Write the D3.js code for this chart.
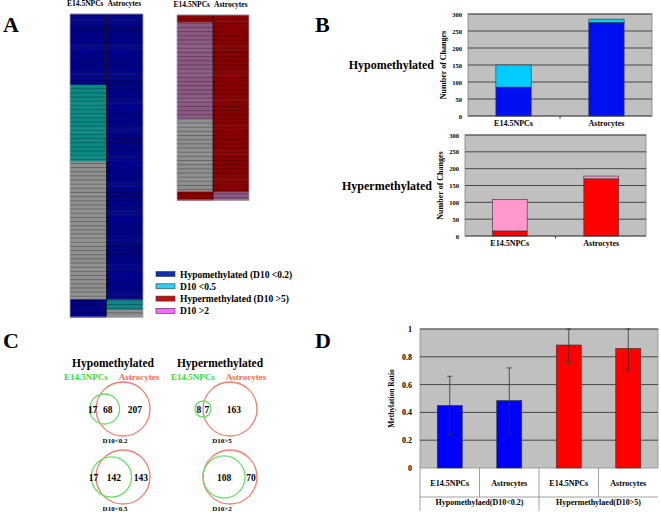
<!DOCTYPE html>
<html>
<head>
<meta charset="utf-8">
<script src="https://cdn.jsdelivr.net/npm/d3@7"></script>
<style>
body { margin: 0; background: #fff; }
text { font-family: "Liberation Serif", "Times New Roman", serif; font-weight: bold; }
</style>
</head>
<body>
<div id="fig"></div>
<script>
// ---- data ----
// panel A: blocks of genes, state in E14.5NPCs / Astrocytes, number of genes
const hypoBlocks = [
  { npc: 'lt02', astro: 'lt02', n: 68 },
  { npc: 'lt05', astro: 'lt02', n: 74 },
  { npc: 'none', astro: 'lt02', n: 133 },
  { npc: 'lt02', astro: 'lt05', n: 10 },
  { npc: 'lt02', astro: 'none', n: 7 }
]
const hyperBlocks = [
  { npc: 'gt5', astro: 'gt5', n: 7 },
  { npc: 'gt2', astro: 'gt5', n: 93 },
  { npc: 'none', astro: 'gt5', n: 70 },
  { npc: 'gt5', astro: 'gt2', n: 8 }
]
const heatColors = { lt02: '#00008a', lt05: '#0b8a84', none: '#8f8f8f', gt5: '#880000', gt2: '#8c5a82' }
const legendLabels = ['Hypomethylated (D10 <0.2)', 'D10 <0.5', 'Hypermethylated (D10 >5)', 'D10 >2']
const legendColors = ['#1030b0', '#33ccff', '#cc1010', '#ff66ff']

// panel B: stacked counts
const cellTypes = ['E14.5NPCs', 'Astrocytes']
const hypoStrict = [85, 275]   // D10 < 0.2
const hypoLoose = [150, 285]   // D10 < 0.5
const hyperStrict = [15, 170]  // D10 > 5
const hyperLoose = [108, 178]  // D10 > 2
const countTicks = [0, 50, 100, 150, 200, 250, 300]

// panel C: venn counts
const vennNames = ['D10<0.2', 'D10<0.5', 'D10>5', 'D10>2']
const vennNpcOnly = [17, 17, 8, 0]
const vennShared = [68, 142, 7, 108]
const vennAstroOnly = [207, 143, 163, 70]

// panel D: methylation ratio
const dCells = ['E14.5NPCs', 'Astrocytes', 'E14.5NPCs', 'Astrocytes']
const dGroups = ['Hypomethylaed(D10<0.2)', 'Hypermethylaed(D10>5)']
const dMeans = [0.45, 0.485, 0.885, 0.86]
const dSd = [0.21, 0.235, 0.125, 0.155]
const dColors = ['#0000ff', '#0000ff', '#ff0000', '#ff0000']
const ratioTicks = [0, 0.2, 0.4, 0.6, 0.8, 1]

const svg = d3.select('#fig').append('svg')
  .attr('width', 661)
  .attr('height', 512)

// panel letters
const letters = [['A', 3, 32], ['B', 315, 32], ['C', 3, 348], ['D', 315, 348]]
svg.selectAll('.letter').data(letters).join('text')
  .attr('class', 'letter')
  .attr('x', d => d[1]).attr('y', d => d[2])
  .style('font-size', '22px')
  .text(d => d[0])

// ---- panel A ----
function heatmap(blocks, x0, x1, y0, y1) {
  const rows = []
  blocks.forEach(b => { for (let i = 0; i < b.n; i++) rows.push(b) })
  const x = d3.scaleBand().domain(cellTypes).range([x0, x1])
  const y = d3.scaleBand().domain(d3.range(rows.length)).range([y0, y1])
  const g = svg.append('g')

  cellTypes.forEach((c, ci) => {
    const key = ci === 0 ? 'npc' : 'astro'
    g.selectAll('.cell' + ci).data(rows).join('rect')
      .attr('x', x(c))
      .attr('y', (d, i) => y(i))
      .attr('width', x.bandwidth())
      .attr('height', y.bandwidth() + 0.6)
      .attr('fill', d => heatColors[d[key]])
  })
  // row separator lines
  g.selectAll('.sep').data(d3.range(0, rows.length, 4)).join('line')
    .attr('x1', x0).attr('x2', x1)
    .attr('y1', d => y(d)).attr('y2', d => y(d))
    .attr('stroke', '#000').attr('stroke-opacity', 0.35).attr('stroke-width', 0.8)
  g.append('line')
    .attr('x1', x(cellTypes[1])).attr('x2', x(cellTypes[1]))
    .attr('y1', y0).attr('y2', y1)
    .attr('stroke', '#111').attr('stroke-width', 0.8)
  g.append('rect')
    .attr('x', x0).attr('y', y0).attr('width', x1 - x0).attr('height', y1 - y0)
    .attr('fill', 'none').attr('stroke', '#a8a0b8').attr('stroke-width', 0.8)
  g.append('text')
    .attr('x', x(cellTypes[1]) - 3).attr('y', y0 - 8)
    .attr('text-anchor', 'end').style('font-size', '7.5px')
    .text(cellTypes[0])
  g.append('text')
    .attr('x', x(cellTypes[1]) + 1).attr('y', y0 - 8)
    .style('font-size', '7.5px')
    .text(cellTypes[1])
}
heatmap(hypoBlocks, 70, 143, 14, 317)
heatmap(hyperBlocks, 177, 249, 15, 200)

const leg = svg.append('g')
leg.selectAll('rect').data(legendLabels).join('rect')
  .attr('x', 156).attr('y', (d, i) => 271.5 + i * 12.3)
  .attr('width', 19).attr('height', 5)
  .attr('fill', (d, i) => legendColors[i])
  .attr('stroke', '#333').attr('stroke-width', 0.6)
leg.selectAll('text').data(legendLabels).join('text')
  .attr('x', 180).attr('y', (d, i) => 277.5 + i * 12.3)
  .style('font-size', '9.5px')
  .text(d => d)

// ---- panel B ----
function stackChart(strict, loose, colA, colB, xr, yr, title, titleX) {
  const x = d3.scaleBand().domain(cellTypes).range(xr).paddingInner(0.62).paddingOuter(0.3)
  const y = d3.scaleLinear().domain([0, 300]).range(yr)
  const g = svg.append('g')

  g.append('rect')
    .attr('x', xr[0]).attr('y', yr[1]).attr('width', xr[1] - xr[0]).attr('height', yr[0] - yr[1])
    .attr('fill', '#c0c0c0').attr('stroke', '#808080').attr('stroke-width', 0.8)
  g.selectAll('.grid').data(countTicks.slice(1)).join('line')
    .attr('x1', xr[0]).attr('x2', xr[1])
    .attr('y1', d => y(d)).attr('y2', d => y(d))
    .attr('stroke', '#3a3a3a').attr('stroke-width', 0.9)

  const yAxis = g.append('g')
    .attr('transform', `translate(${xr[0]},0)`)
    .call(d3.axisLeft(y).tickValues(countTicks).tickSize(0).tickPadding(6))
  yAxis.select('.domain').remove()
  yAxis.selectAll('text').style('font-size', '6.5px')

  g.selectAll('.lo').data(cellTypes).join('rect')
    .attr('x', d => x(d)).attr('width', x.bandwidth())
    .attr('y', (d, i) => y(strict[i])).attr('height', (d, i) => y(0) - y(strict[i]))
    .attr('fill', colA).attr('stroke', '#333').attr('stroke-width', 0.6)
  g.selectAll('.hi').data(cellTypes).join('rect')
    .attr('x', d => x(d)).attr('width', x.bandwidth())
    .attr('y', (d, i) => y(loose[i])).attr('height', (d, i) => y(strict[i]) - y(loose[i]))
    .attr('fill', colB).attr('stroke', '#333').attr('stroke-width', 0.6)

  // x axis line with category ticks
  g.append('line')
    .attr('x1', xr[0]).attr('x2', xr[1]).attr('y1', y(0)).attr('y2', y(0))
    .attr('stroke', '#333').attr('stroke-width', 0.9)
  const mid = (x(cellTypes[0]) + x(cellTypes[1]) + x.bandwidth()) / 2
  g.append('line')
    .attr('x1', mid).attr('x2', mid).attr('y1', y(0)).attr('y2', y(0) + 2.5)
    .attr('stroke', '#333')
  g.selectAll('.xl').data(cellTypes).join('text')
    .attr('x', d => x(d) + x.bandwidth() / 2).attr('y', y(0) + 10)
    .attr('text-anchor', 'middle').style('font-size', '8px')
    .text(d => d)

  g.append('text')
    .attr('transform', `translate(${xr[0] - 22},${(yr[0] + yr[1]) / 2}) rotate(-90)`)
    .attr('text-anchor', 'middle').style('font-size', '8px')
    .text('Number of Changes')
  g.append('text')
    .attr('x', titleX).attr('y', (yr[0] + yr[1]) / 2 + 4)
    .attr('text-anchor', 'end').style('font-size', '12px')
    .text(title)
}
stackChart(hypoStrict, hypoLoose, '#0010f0', '#00ccff', [468, 652], [116, 14], 'Hypomethylated', 434)
stackChart(hyperStrict, hyperLoose, '#ff0000', '#ff99cc', [465, 646], [236, 135], 'Hypermethylated', 432)

// ---- panel C ----
function lensArea(r1, r2, d) {
  if (d >= r1 + r2) return 0
  if (d <= Math.abs(r1 - r2)) return Math.PI * Math.min(r1, r2) ** 2
  const a = r1 * r1 * Math.acos((d * d + r1 * r1 - r2 * r2) / (2 * d * r1))
  const b = r2 * r2 * Math.acos((d * d + r2 * r2 - r1 * r1) / (2 * d * r2))
  const c = 0.5 * Math.sqrt((-d + r1 + r2) * (d + r1 - r2) * (d - r1 + r2) * (d + r1 + r2))
  return a + b - c
}
function solveDist(r1, r2, target) {
  let lo = Math.abs(r1 - r2), hi = r1 + r2
  for (let i = 0; i < 50; i++) {
    const m = (lo + hi) / 2
    if (lensArea(r1, r2, m) > target) lo = m; else hi = m
  }
  return (lo + hi) / 2
}

const vennCols = [113, 220]
const vennRows = [409, 477]
const bigR = 27
const cg = svg.append('g')
cg.selectAll('.vt').data(['Hypomethylated', 'Hypermethylated']).join('text')
  .attr('x', (d, i) => vennCols[i]).attr('y', 367)
  .attr('text-anchor', 'middle').style('font-size', '11.5px')
  .text(d => d)
vennCols.forEach(cx => {
  cg.append('text').attr('x', cx - 27).attr('y', 380).attr('text-anchor', 'middle')
    .attr('fill', '#33dd33').style('font-size', '9px').text(cellTypes[0])
  cg.append('text').attr('x', cx + 26).attr('y', 380).attr('text-anchor', 'middle')
    .attr('fill', '#ff6650').style('font-size', '9px').text(cellTypes[1])
})

vennNames.forEach((name, i) => {
  const npcTotal = vennNpcOnly[i] + vennShared[i]
  const astroTotal = vennShared[i] + vennAstroOnly[i]
  const r = bigR * Math.sqrt(npcTotal / astroTotal)
  const target = vennShared[i] / astroTotal * Math.PI * bigR * bigR
  const d = solveDist(r, bigR, target)
  const rx = vennCols[Math.floor(i / 2)] + 10
  const cy = vennRows[i % 2]
  const gx = rx - d
  cg.append('circle').attr('cx', rx).attr('cy', cy).attr('r', bigR)
    .attr('fill', 'none').attr('stroke', '#f08070').attr('stroke-width', 1.3)
  cg.append('circle').attr('cx', gx).attr('cy', cy).attr('r', r)
    .attr('fill', 'none').attr('stroke', '#66dd66').attr('stroke-width', 1.3)

  const gl = gx - r, gr = gx + r, rl = rx - bigR, rr = rx + bigR
  const nums = [
    [vennNpcOnly[i], (gl + rl) / 2],
    [vennShared[i], (Math.max(gl, rl) + Math.min(gr, rr)) / 2],
    [vennAstroOnly[i], (gr + rr) / 2]
  ].filter(n => n[0] > 0)
  cg.selectAll('.n' + i).data(nums).join('text')
    .attr('x', n => n[1]).attr('y', cy + 3.5)
    .attr('text-anchor', 'middle').style('font-size', '9.5px')
    .text(n => n[0])
  cg.append('text').attr('x', rx - 8).attr('y', cy + bigR + 7)
    .attr('text-anchor', 'middle').style('font-size', '7px')
    .text(name)
})

// ---- panel D ----
const dIdx = d3.range(dMeans.length)
const xD = d3.scaleBand().domain(dIdx).range([420, 658]).paddingInner(0.58).paddingOuter(0.29)
const yD = d3.scaleLinear().domain([0, 1]).range([468, 329])
const dg = svg.append('g')
dg.append('rect')
  .attr('x', 420).attr('y', yD(1)).attr('width', 238).attr('height', yD(0) - yD(1))
  .attr('fill', '#c0c0c0').attr('stroke', '#909090').attr('stroke-width', 0.8)
dg.selectAll('.grid').data(ratioTicks.slice(1)).join('line')
  .attr('x1', 420).attr('x2', 658)
  .attr('y1', d => yD(d)).attr('y2', d => yD(d))
  .attr('stroke', '#3a3a3a').attr('stroke-width', 0.9)
const yAxD = dg.append('g').attr('transform', 'translate(420,0)')
  .call(d3.axisLeft(yD).tickValues(ratioTicks).tickSize(0).tickPadding(8).tickFormat(d3.format('')))
yAxD.select('.domain').remove()
yAxD.selectAll('text').style('font-size', '8px')
dg.append('text')
  .attr('transform', `translate(394,${(yD(0) + yD(1)) / 2}) rotate(-90)`)
  .attr('text-anchor', 'middle').style('font-size', '7.5px')
  .text('Methylation Ratio')

dg.selectAll('.bar').data(dIdx).join('rect')
  .attr('x', i => xD(i)).attr('width', xD.bandwidth())
  .attr('y', i => yD(dMeans[i])).attr('height', i => yD(0) - yD(dMeans[i]))
  .attr('fill', i => dColors[i]).attr('stroke', '#333').attr('stroke-width', 0.6)

const cx = i => xD(i) + xD.bandwidth() / 2
const hiErr = i => Math.min(1, dMeans[i] + dSd[i])
const loErr = i => dMeans[i] - dSd[i]
dg.selectAll('.err').data(dIdx).join('line')
  .attr('x1', cx).attr('x2', cx)
  .attr('y1', i => yD(hiErr(i))).attr('y2', i => yD(loErr(i)))
  .attr('stroke', '#333').attr('stroke-width', 0.8)
dg.selectAll('.capT').data(dIdx).join('line')
  .attr('x1', i => cx(i) - 2.5).attr('x2', i => cx(i) + 2.5)
  .attr('y1', i => yD(hiErr(i))).attr('y2', i => yD(hiErr(i)))
  .attr('stroke', '#333').attr('stroke-width', 0.8)
dg.selectAll('.capB').data(dIdx).join('line')
  .attr('x1', i => cx(i) - 2.5).attr('x2', i => cx(i) + 2.5)
  .attr('y1', i => yD(loErr(i))).attr('y2', i => yD(loErr(i)))
  .attr('stroke', '#333').attr('stroke-width', 0.8)

// category table under the axis
dg.append('line').attr('x1', 420).attr('x2', 658).attr('y1', 497).attr('y2', 497)
  .attr('stroke', '#888').attr('stroke-width', 0.8)
dg.append('line').attr('x1', 420).attr('x2', 420).attr('y1', yD(0)).attr('y2', 511)
  .attr('stroke', '#888').attr('stroke-width', 0.8)
dIdx.slice(1).forEach(i => {
  const bx = (cx(i - 1) + cx(i)) / 2
  dg.append('line').attr('x1', bx).attr('x2', bx)
    .attr('y1', yD(0)).attr('y2', i === 2 ? 511 : 497)
    .attr('stroke', '#888').attr('stroke-width', 0.8)
})
dg.selectAll('.cl').data(dIdx).join('text')
  .attr('x', cx).attr('y', 486)
  .attr('text-anchor', 'middle').style('font-size', '8px')
  .text(i => dCells[i])
dg.selectAll('.gl').data(dGroups).join('text')
  .attr('x', (d, k) => (cx(2 * k) + cx(2 * k + 1)) / 2).attr('y', 505)
  .attr('text-anchor', 'middle').style('font-size', '8px')
  .text(d => d)
</script>
</body>
</html>
